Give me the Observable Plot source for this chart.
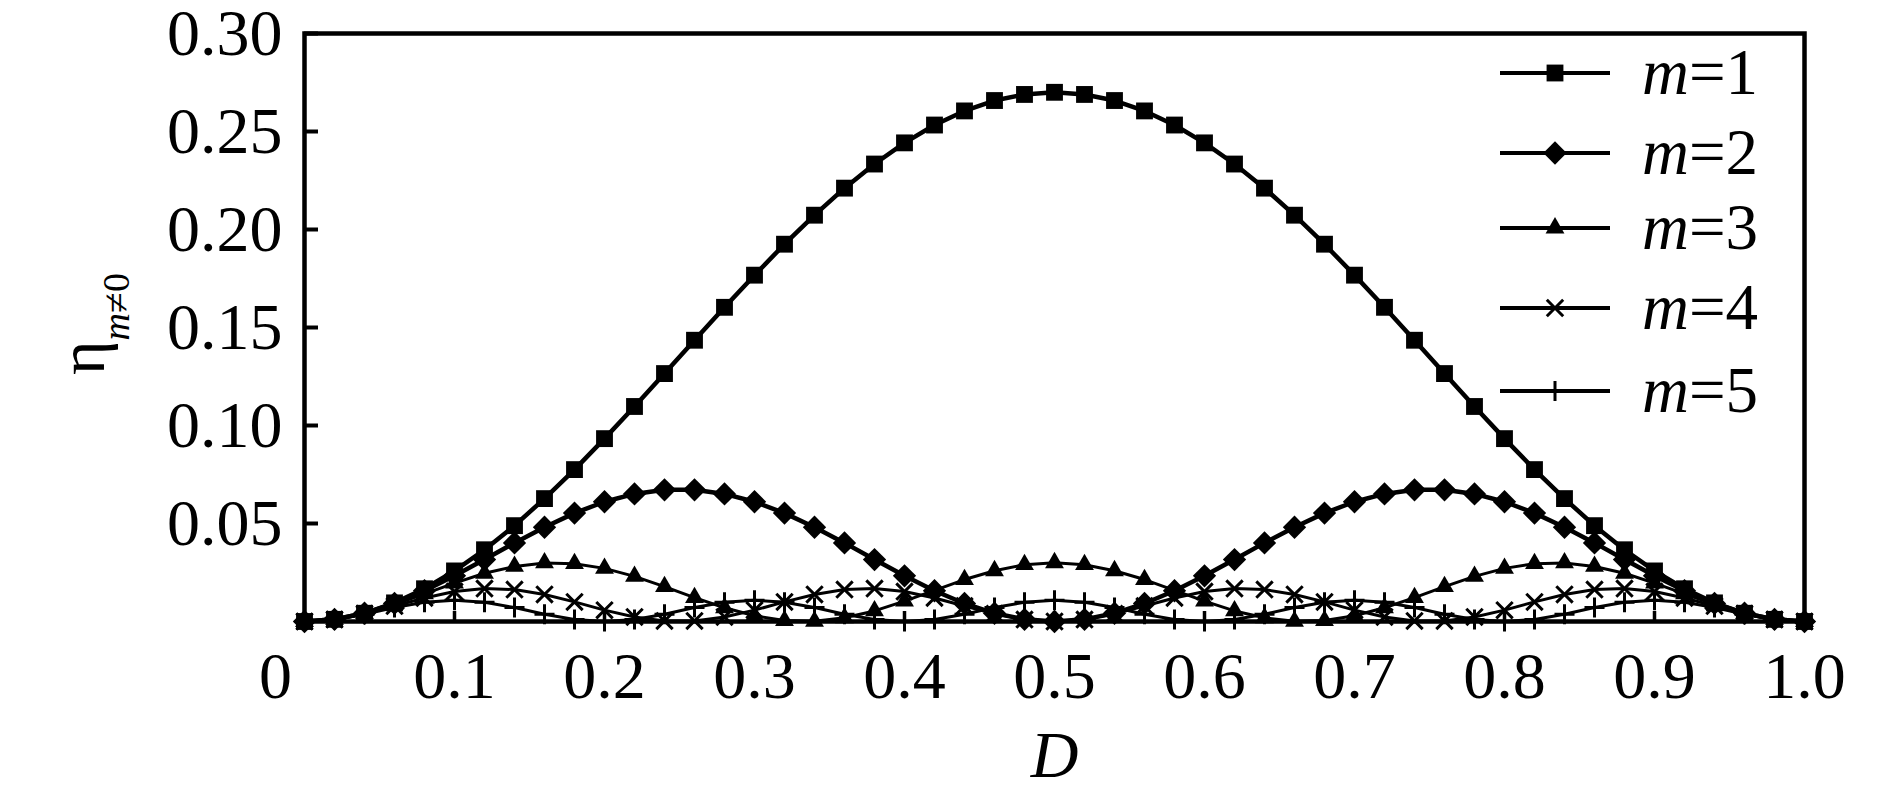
<!DOCTYPE html>
<html><head><meta charset="utf-8">
<script src="https://cdn.jsdelivr.net/npm/d3@7"></script>
<script src="https://cdn.jsdelivr.net/npm/@observablehq/plot@0.6"></script>
<style>body{margin:0;background:#fff} #chart{position:relative;width:1890px;height:803px}</style>
</head><body><div id="chart"></div>
<script>
// D values (x) and diffraction efficiencies
const D = [0,0.02,0.04,0.06,0.08,0.10,0.12,0.14,0.16,0.18,0.20,0.22,0.24,0.26,0.28,0.30,0.32,0.34,0.36,0.38,0.40,0.42,0.44,0.46,0.48,0.50,0.52,0.54,0.56,0.58,0.60,0.62,0.64,0.66,0.68,0.70,0.72,0.74,0.76,0.78,0.80,0.82,0.84,0.86,0.88,0.90,0.92,0.94,0.96,0.98,1.00];
const eta1 = [0,0.0011,0.0042,0.0095,0.0167,0.0258,0.0366,0.0489,0.0627,0.0775,0.0933,0.1097,0.1265,0.1435,0.1603,0.1767,0.1925,0.2073,0.2211,0.2334,0.2442,0.2533,0.2605,0.2658,0.2689,0.2700,0.2689,0.2658,0.2605,0.2533,0.2442,0.2334,0.2211,0.2073,0.1925,0.1767,0.1603,0.1435,0.1265,0.1097,0.0933,0.0775,0.0627,0.0489,0.0366,0.0258,0.0167,0.0095,0.0042,0.0011,0];
const eta2 = [0,0.0011,0.0042,0.0092,0.0157,0.0233,0.0316,0.0401,0.0481,0.0553,0.0611,0.0651,0.0672,0.0672,0.0651,0.0611,0.0553,0.0481,0.0401,0.0316,0.0233,0.0157,0.0092,0.0042,0.0011,0,0.0011,0.0042,0.0092,0.0157,0.0233,0.0316,0.0401,0.0481,0.0553,0.0611,0.0651,0.0672,0.0672,0.0651,0.0611,0.0553,0.0481,0.0401,0.0316,0.0233,0.0157,0.0092,0.0042,0.0011,0];
const eta3 = [0,0.0011,0.0041,0.0086,0.0141,0.0196,0.0246,0.0281,0.0299,0.0295,0.0271,0.0230,0.0178,0.0122,0.0070,0.0029,0.0005,0.0001,0.0019,0.0054,0.0104,0.0159,0.0214,0.0259,0.0290,0.0300,0.0290,0.0259,0.0214,0.0159,0.0104,0.0054,0.0019,0.0001,0.0005,0.0029,0.0070,0.0122,0.0178,0.0230,0.0271,0.0295,0.0299,0.0281,0.0246,0.0196,0.0141,0.0086,0.0041,0.0011,0];
const eta4 = [0,0.0010,0.0039,0.0079,0.0120,0.0153,0.0168,0.0163,0.0138,0.0100,0.0058,0.0023,0.0003,0.0003,0.0023,0.0058,0.0100,0.0138,0.0163,0.0168,0.0153,0.0120,0.0079,0.0039,0.0010,0,0.0010,0.0039,0.0079,0.0120,0.0153,0.0168,0.0163,0.0138,0.0100,0.0058,0.0023,0.0003,0.0003,0.0023,0.0058,0.0100,0.0138,0.0163,0.0168,0.0153,0.0120,0.0079,0.0039,0.0010,0];
const eta5 = [0,0.0010,0.0037,0.0071,0.0098,0.0108,0.0098,0.0071,0.0037,0.0010,0,0.0010,0.0037,0.0071,0.0098,0.0108,0.0098,0.0071,0.0037,0.0010,0,0.0010,0.0037,0.0071,0.0098,0.0108,0.0098,0.0071,0.0037,0.0010,0,0.0010,0.0037,0.0071,0.0098,0.0108,0.0098,0.0071,0.0037,0.0010,0,0.0010,0.0037,0.0071,0.0098,0.0108,0.0098,0.0071,0.0037,0.0010,0];
const mValues = [1,2,3,4,5];
const xTicks = [0,0.1,0.2,0.3,0.4,0.5,0.6,0.7,0.8,0.9,1.0];
const yTicks = [0.05,0.10,0.15,0.20,0.25,0.30];

const seriesValues = [eta1, eta2, eta3, eta4, eta5];
const styles = [
  {symbol:"square",   r:9.5,  filled:true,  lw:4.5},
  {symbol:"diamond2", r:10.5, filled:true,  lw:4.5},
  {symbol:"triangle", r:7,    filled:true,  lw:3},
  {symbol:"times",    r:7.5,  filled:false, lw:3},
  {symbol:"plus",     r:6.5,  filled:false, lw:3}
];
const rows = mValues.map((m, i) => D.map((d, j) => ({D: d, eta: seriesValues[i][j], m})));

const font = "'Liberation Serif', 'Times New Roman', serif";
const W = 1890, H = 803, ML = 304, MR = 86, MT = 33, MB = 182;
const PW = W - ML - MR, PH = H - MT - MB;

const marks = [];
for (let i = mValues.length - 1; i >= 0; i--) {
  const s = styles[i];
  marks.push(Plot.line(rows[i], {x: "D", y: "eta", stroke: "black", strokeWidth: s.lw}));
  marks.push(Plot.dot(rows[i], {
    x: "D", y: "eta", symbol: s.symbol, r: s.r,
    fill: s.filled ? "black" : "none",
    stroke: s.filled ? "none" : "black",
    strokeWidth: 3
  }));
}

const chart = Plot.plot({
  width: W, height: H,
  marginLeft: ML, marginRight: MR, marginTop: MT, marginBottom: MB,
  x: {domain: [0, 1]},
  y: {domain: [0, 0.3]},
  style: {fontFamily: font, fontSize: "66px", background: "white", color: "black", overflow: "visible"},
  marks: [
    Plot.tickY(yTicks, {y: d => d, stroke: "black", strokeWidth: 4, insetRight: PW - 14}),
    Plot.tickX(xTicks.filter(d => d > 0 && d < 1), {x: d => d, stroke: "black", strokeWidth: 3.5, insetTop: PH - 10}),
    Plot.axisY({ticks: yTicks, tickSize: 0, tickPadding: 22, tickFormat: d3.format(".2f"), label: null}),
    Plot.axisX({ticks: xTicks.filter(d => d > 0), tickSize: 0, tickPadding: 30, tickFormat: d3.format(".1f"), label: null}),
    Plot.axisX({ticks: [0], tickSize: 0, tickPadding: 30, tickFormat: () => "0", dx: -29, label: null}),
    ...marks,
    Plot.frame({stroke: "black", strokeWidth: 4.5}),
    Plot.text(["D"], {text: d => d, frameAnchor: "bottom", dy: 155, fontStyle: "italic", fontSize: 66})
  ]
});
document.getElementById("chart").appendChild(chart);

const svg = d3.select(chart);
// y label: eta_{m≠0}, rotated
const yl = svg.append("text")
  .attr("transform", "translate(104,324) rotate(-90)")
  .attr("text-anchor", "middle")
  .attr("font-family", font)
  .attr("fill", "black");
yl.append("tspan").attr("font-size", 66).text("η");
yl.append("tspan").attr("font-size", 38).attr("font-style", "italic").attr("dy", 25).text("m");
yl.append("tspan").attr("font-size", 38).text("≠0");

// legend inside the plot area
const lg = svg.append("g").attr("font-family", font).attr("fill", "black").attr("text-anchor", "start");
const rowY = [73, 153, 228, 308, 391];
const symMap = {square: d3.symbolSquare, diamond2: d3.symbolDiamond2, triangle: d3.symbolTriangle, times: d3.symbolTimes, plus: d3.symbolPlus};
mValues.forEach((m, i) => {
  const s = styles[i];
  const g = lg.append("g").attr("transform", `translate(0,${rowY[i]})`);
  g.append("line").attr("x1", 1500).attr("x2", 1610).attr("y1", 0).attr("y2", 0)
    .attr("stroke", "black").attr("stroke-width", 4);
  g.append("path").attr("transform", "translate(1555,0)")
    .attr("d", d3.symbol(symMap[s.symbol], Math.PI * s.r * s.r)())
    .attr("fill", s.filled ? "black" : "none")
    .attr("stroke", s.filled ? "none" : "black")
    .attr("stroke-width", 3);
  const t = g.append("text").attr("x", 1642).attr("y", 21).attr("font-size", 65).attr("text-anchor", "start");
  t.append("tspan").attr("font-style", "italic").text("m");
  t.append("tspan").text("=" + m);
});
</script>
</body></html>
